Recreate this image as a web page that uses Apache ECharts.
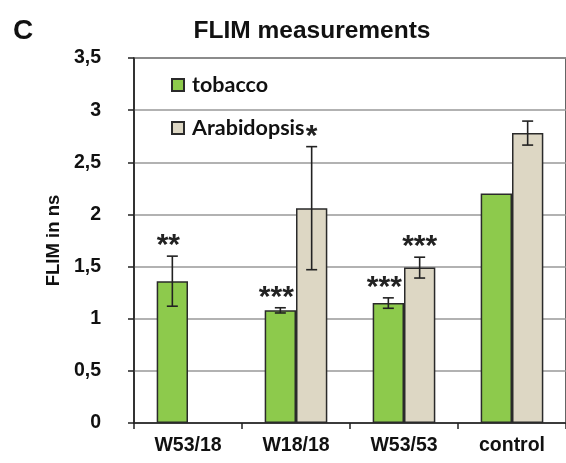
<!DOCTYPE html>
<html><head><meta charset="utf-8">
<script src="https://cdn.jsdelivr.net/npm/echarts@6/dist/echarts.min.js"></script>
<style>html,body{margin:0;padding:0;background:#fff}#c{width:566px;height:463px}</style>
</head><body><div id="c"></div>
<script>
var categories = ['W53/18', 'W18/18', 'W53/53', 'control'];
var tobacco = [1.36, 1.08, 1.15, 2.2];
var tobaccoErr = [0.24, 0.025, 0.05, null];
var tobaccoStars = ['**', '***', '***', ''];
var arabidopsis = [null, 2.06, 1.49, 2.78];
var arabidopsisErr = [null, 0.59, 0.1, 0.115];
var arabidopsisStars = ['', '*', '***', ''];
var yTicks = [0, 0.5, 1, 1.5, 2, 2.5, 3, 3.5];

var GAP = 0.42;
function errData(vals, errs, stars) {
  var out = [];
  for (var i = 0; i < vals.length; i++) {
    if (vals[i] == null) continue;
    var e = errs[i] == null ? 0 : errs[i];
    out.push([i, vals[i] - e, vals[i] + e, stars[i], errs[i] == null ? 0 : 1]);
  }
  return out;
}
function makeRender(side) {
  return function (params, api) {
    var band = api.size([1, 0])[0];
    var bw = band * (1 - GAP) / 2;
    var c = api.coord([api.value(0), 0]);
    var x = c[0] + side * bw / 2;
    var lo = api.coord([api.value(0), api.value(1)])[1];
    var hi = api.coord([api.value(0), api.value(2)])[1];
    var stars = api.value(3);
    var hasErr = api.value(4);
    var children = [];
    var st = { stroke: '#222', lineWidth: 1.6 };
    if (hasErr) {
      children.push({ type: 'line', shape: { x1: x, y1: lo, x2: x, y2: hi }, style: st });
      children.push({ type: 'line', shape: { x1: x - 5.5, y1: lo, x2: x + 5.5, y2: lo }, style: st });
      children.push({ type: 'line', shape: { x1: x - 5.5, y1: hi, x2: x + 5.5, y2: hi }, style: st });
    }
    if (stars) {
      children.push({ type: 'text', style: { text: stars, x: x + (side < 0 ? -4 : 0), y: hi + 5, align: 'center', verticalAlign: 'bottom',
        font: 'bold 30px "Liberation Sans", Arial, sans-serif', fill: '#222' } });
    }
    return { type: 'group', children: children };
  };
}

var chart = echarts.init(document.getElementById('c'));
chart.setOption({
  animation: false,
  backgroundColor: '#fff',
  title: [
    { text: 'FLIM measurements', left: 307, top: 14, textAlign: 'center',
      textStyle: { fontFamily: '"Liberation Sans", Arial, sans-serif', fontWeight: 'bold', fontSize: 24.5, color: '#111' } },
    { text: 'C', left: 8, top: 12,
      textStyle: { fontFamily: '"Liberation Sans", Arial, sans-serif', fontWeight: 'bold', fontSize: 28, color: '#111' } }
  ],
  legend: {
    orient: 'vertical', left: 171, top: 74, padding: 0, itemGap: 21, itemWidth: 12, itemHeight: 12,
    icon: 'rect',
    textStyle: { fontFamily: 'Lato, "Open Sans", sans-serif', fontWeight: 'bold', fontSize: 21.5, color: '#111', padding: [0, 0, 0, 3] },
    data: ['tobacco', 'Arabidopsis']
  },
  grid: { left: 134, top: 58, bottom: 40, width: 434, show: true, borderColor: '#333', borderWidth: 1.5, backgroundColor: 'transparent' },
  xAxis: {
    type: 'category', data: categories,
    axisLine: { lineStyle: { color: '#222', width: 1.5 } },
    axisTick: { show: true, length: 6, lineStyle: { color: '#222', width: 1.5 } },
    axisLabel: { margin: 13, fontFamily: '"Liberation Sans", Arial, sans-serif', fontWeight: 'bold', fontSize: 19.5, color: '#111' }
  },
  yAxis: {
    type: 'value', min: 0, max: 3.5, interval: 0.5,
    name: 'FLIM in ns', nameLocation: 'middle', nameGap: 71, nameRotate: 90,
    nameTextStyle: { fontFamily: '"Liberation Sans", Arial, sans-serif', fontWeight: 'bold', fontSize: 18.5, color: '#111' },
    axisLine: { show: true, lineStyle: { color: '#222', width: 1.5 } },
    axisTick: { show: true, length: 6, lineStyle: { color: '#222', width: 1.5 } },
    splitLine: { lineStyle: { color: '#999', width: 1.5 } },
    axisLabel: { margin: 33, fontFamily: '"Liberation Sans", Arial, sans-serif', fontWeight: 'bold', fontSize: 19.5, color: '#111',
      formatter: function (v) { return yTicks.indexOf(v) >= 0 ? String(v).replace('.', ',') : ''; } }
  },
  series: [
    { name: 'tobacco', type: 'bar', data: tobacco, barGap: '0%', barCategoryGap: (GAP * 100) + '%',
      itemStyle: { color: '#8dca4c', borderColor: '#2a2a2a', borderWidth: 1.5 } },
    { name: 'Arabidopsis', type: 'bar', data: arabidopsis, barGap: '0%', barCategoryGap: (GAP * 100) + '%',
      itemStyle: { color: '#ddd7c4', borderColor: '#2a2a2a', borderWidth: 1.5 } },
    { type: 'custom', renderItem: makeRender(-1), data: errData(tobacco, tobaccoErr, tobaccoStars),
      encode: { x: 0, y: [1, 2] }, z: 5, silent: true },
    { type: 'custom', renderItem: makeRender(1), data: errData(arabidopsis, arabidopsisErr, arabidopsisStars),
      encode: { x: 0, y: [1, 2] }, z: 5, silent: true }
  ]
});
</script></body></html>
